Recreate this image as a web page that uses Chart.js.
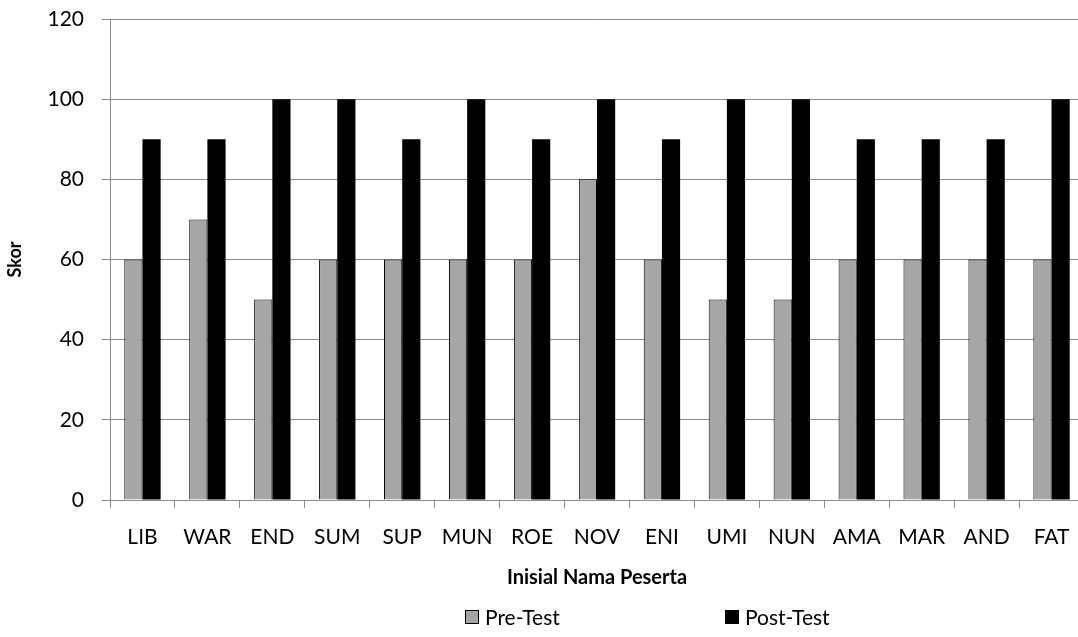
<!DOCTYPE html>
<html>
<head>
<meta charset="utf-8">
<script src="https://cdn.jsdelivr.net/npm/chart.js@4"></script>
<style>
  html, body { margin: 0; padding: 0; background: #fff; overflow: hidden; }
  #wrap { position: relative; width: 1092px; height: 637px; }
  #legend { position: absolute; top: 604px; left: 0; width: 1078px; height: 30px;
    font-family: Lato, "Open Sans", sans-serif; font-size: 21px; color: #000; }
  .item { position: absolute; top: 0; display: flex; align-items: center; }
  .box { width: 14px; height: 14px; border: 1px solid #000; margin-right: 6px; box-sizing: border-box; }
</style>
</head>
<body>
<div id="wrap">
  <canvas id="barCanvas" width="1092" height="637"></canvas>
  <div id="legend"></div>
</div>
<script>
const labels = ["LIB", "WAR", "END", "SUM", "SUP", "MUN", "ROE", "NOV", "ENI", "UMI", "NUN", "AMA", "MAR", "AND", "FAT"];
const preTest = [60, 70, 50, 60, 60, 60, 60, 80, 60, 50, 50, 60, 60, 60, 60];
const postTest = [90, 90, 100, 100, 90, 100, 90, 100, 90, 100, 100, 90, 90, 90, 100];
const yTicks = [0, 20, 40, 60, 80, 100, 120];

const font = "Lato";
const gridColor = "#8c8c8c";

const barCanvas = document.getElementById("barCanvas");

const barChart = new Chart(barCanvas, {
  type: "bar",
  data: {
    labels: labels,
    datasets: [{
      label: "Pre-Test",
      data: preTest,
      backgroundColor: "#a6a6a6",
      borderColor: "#000",
      borderWidth: 1
    }, {
      label: "Post-Test",
      data: postTest,
      backgroundColor: "#000",
      borderColor: "#000",
      borderWidth: 0
    }]
  },
  options: {
    responsive: false,
    animation: false,
    layout: { padding: { top: 19, right: 8, left: 0, bottom: 47 } },
    plugins: {
      legend: { display: false },
      tooltip: { enabled: false }
    },
    datasets: {
      bar: { categoryPercentage: 0.56, barPercentage: 1 }
    },
    scales: {
      x: {
        afterFit: (scale) => { scale.height = 90; },
        grid: { display: true, drawOnChartArea: false, color: gridColor, tickLength: 8, offset: true },
        border: { color: gridColor, width: 1 },
        ticks: { color: "#000", font: { family: font, size: 21 }, padding: 17, maxRotation: 0, autoSkip: false },
        title: { display: true, text: "Inisial Nama Peserta", color: "#000",
          font: { family: font, size: 20, weight: "bold" }, padding: { top: 0, bottom: 0 } }
      },
      y: {
        min: 0,
        max: 120,
        afterFit: (scale) => { scale.width = 110; scale.paddingTop = 0; scale.paddingBottom = 0; },
        afterBuildTicks: (scale) => { scale.ticks = yTicks.map(v => ({ value: v })); },
        grid: { color: gridColor, tickLength: 8 },
        border: { color: gridColor, width: 1 },
        ticks: { color: "#000", font: { family: font, size: 21 }, padding: 18 },
        title: { display: true, text: "Skor", color: "#000",
          font: { family: font, size: 18, weight: "bold" }, padding: { top: 4, bottom: 0 } }
      }
    }
  }
});

// legend laid out like the original (two items, wide gap)
const legendEl = document.getElementById("legend");
const legendX = [465, 725];
barChart.data.datasets.forEach((ds, i) => {
  const item = document.createElement("div");
  item.className = "item";
  item.style.left = legendX[i] + "px";
  const box = document.createElement("span");
  box.className = "box";
  box.style.background = ds.backgroundColor;
  const txt = document.createElement("span");
  txt.textContent = ds.label;
  item.appendChild(box);
  item.appendChild(txt);
  legendEl.appendChild(item);
});
</script>
</body>
</html>
